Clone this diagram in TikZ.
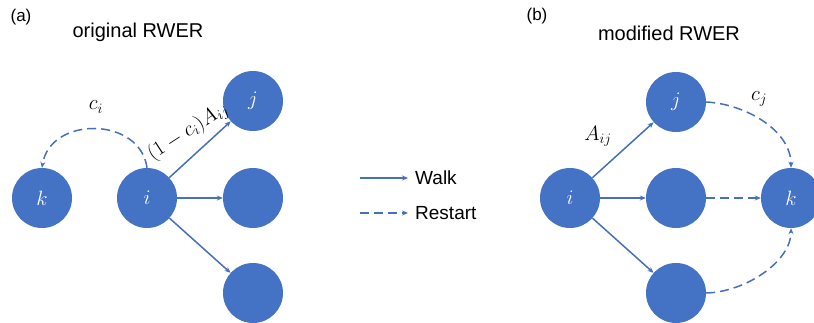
\documentclass[tikz,border=0pt]{standalone}
\usepackage{fontspec}
\setmainfont{Liberation Sans}
\usetikzlibrary{arrows.meta}
\definecolor{nodeblue}{HTML}{4472C4}
\definecolor{lineblue}{HTML}{4670BA}
\begin{document}
\begin{tikzpicture}[x=1pt,y=-1pt,
  vert/.style={circle,fill=nodeblue,minimum size=60pt,inner sep=0pt,text=white,font=\fontsize{22}{26}\selectfont},
  walk/.style={draw=lineblue,line width=1.5pt,-{Stealth[length=6pt,width=5pt]}},
  restart/.style={walk,dash pattern=on 9pt off 5pt},
  lbl/.style={font=\fontsize{20}{24}\selectfont},
  title/.style={font=\fontsize{20}{24}\selectfont},
  tag/.style={font=\fontsize{17}{20}\selectfont},
  legend/.style={font=\fontsize{19}{22}\selectfont,anchor=west,inner sep=0pt}]
\useasboundingbox (0,0) rectangle (814,323);

% panel (a)
\node[tag] (ta) at (21,17) {(a)};
\node[title] (tta) at (138,32) {original RWER};
\node[vert] (ak) at (42,198) {$k$};
\node[vert] (ai) at (147,198) {$i$};
\node[vert] (aj) at (253,101) {$j$};
\node[vert] (am) at (253,198) {};
\node[vert] (ab) at (253,293) {};
\draw[walk] (ai) -- (aj);
\draw[walk] (ai) -- (am);
\draw[walk] (ai) -- (ab);
\draw[restart] (ai.north) .. controls (140,116) and (50,116) .. (ak.north);
\node[lbl] (aci) at (96,107) {$c_i$};
\node[lbl,rotate=33] (alab) at (188,132) {$(1-c_i)A_{ij}$};

% legend
\coordinate (w1) at (360,178);
\coordinate (w2) at (408,178);
\coordinate (r1) at (360,213);
\coordinate (r2) at (408,213);
\draw[walk] (w1) -- (w2);
\draw[restart] (r1) -- (r2);
\node[legend] (lw) at (415,178) {Walk};
\node[legend] (lr) at (415,213) {Restart};

% panel (b)
\node[tag] (tb) at (537,16) {(b)};
\node[title] (ttb) at (669,33) {modified RWER};
\node[vert] (bi) at (570,198) {$i$};
\node[vert] (bj) at (676,102) {$j$};
\node[vert] (bm) at (676,198) {};
\node[vert] (bb) at (676,293) {};
\node[vert] (bk) at (791,198) {$k$};
\draw[walk] (bi) -- (bj);
\draw[walk] (bi) -- (bm);
\draw[walk] (bi) -- (bb);
\draw[restart] (bj.east) .. controls (745,104) and (791,130) .. (bk.north);
\draw[restart] (bm) -- (bk);
\draw[restart] (bb.east) .. controls (745,292) and (791,262) .. (bk.south);
\node[lbl] (bcj) at (759,99) {$c_j$};
\node[lbl] (baij) at (598,136) {$A_{ij}$};
\end{tikzpicture}
\end{document}
